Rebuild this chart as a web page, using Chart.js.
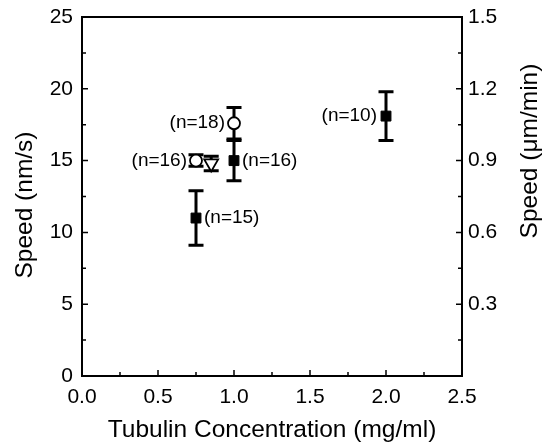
<!DOCTYPE html>
<html>
<head>
<meta charset="utf-8">
<script src="https://cdn.jsdelivr.net/npm/chart.js@4.4.1/dist/chart.umd.min.js"></script>
<style>
  html, body { margin: 0; padding: 0; background: #fff; }
  #wrap { width: 542px; height: 442px; position: relative; }
</style>
</head>
<body>
<div id="wrap"><canvas id="c" width="542" height="442"></canvas></div>
<script>
// ===== data =====
var xTicks = [0.0, 0.5, 1.0, 1.5, 2.0, 2.5];
var yTicks = [0, 5, 10, 15, 20, 25];
var y2Ticks = [0.3, 0.6, 0.9, 1.2, 1.5];

// filled squares
var sqX   = [0.75, 1.0, 2.0];
var sqY   = [11.0, 15.0, 18.1];
var sqErr = [1.9, 1.4, 1.7];
var sqN   = ["(n=15)", "(n=16)", "(n=10)"];
var sqSide = ["right", "right", "left"];

// open circles
var ciX   = [0.75, 1.0];
var ciY   = [15.0, 17.6];
var ciErr = [0.4, 1.1];
var ciN   = ["(n=16)", "(n=18)"];
var ciSide = ["left", "left"];

// open triangle (down)
var trX   = [0.85];
var trY   = [14.8];
var trErr = [0.5];

var FONT = "'Liberation Sans', Arial, Helvetica, sans-serif";

function pts(xs, ys) {
  return xs.map(function (x, i) { return { x: x, y: ys[i] }; });
}

// ===== error bars =====
var errorBars = {
  id: "errorBars",
  beforeDatasetsDraw: function (chart) {
    var ctx = chart.ctx, xs = chart.scales.x, ys = chart.scales.y;
    ctx.save();
    ctx.strokeStyle = "#000";
    ctx.lineWidth = 3;
    chart.data.datasets.forEach(function (ds) {
      if (!ds.err) return;
      ds.data.forEach(function (p, i) {
        var px = xs.getPixelForValue(p.x);
        var top = ys.getPixelForValue(p.y + ds.err[i]);
        var bot = ys.getPixelForValue(p.y - ds.err[i]);
        var w = 7.5;
        ctx.beginPath();
        ctx.moveTo(px, top); ctx.lineTo(px, bot);
        ctx.moveTo(px - w, top); ctx.lineTo(px + w, top);
        ctx.moveTo(px - w, bot); ctx.lineTo(px + w, bot);
        ctx.stroke();
      });
    });
    ctx.restore();
  }
};

// ===== n labels =====
var nLabels = {
  id: "nLabels",
  afterDatasetsDraw: function (chart) {
    var ctx = chart.ctx, xs = chart.scales.x, ys = chart.scales.y;
    ctx.save();
    ctx.fillStyle = "#000";
    ctx.font = "19px " + FONT;
    ctx.textBaseline = "middle";
    chart.data.datasets.forEach(function (ds) {
      if (!ds.nText) return;
      ds.data.forEach(function (p, i) {
        var px = xs.getPixelForValue(p.x);
        var py = ys.getPixelForValue(p.y);
        if (ds.nSide[i] === "left") {
          ctx.textAlign = "right";
          ctx.fillText(ds.nText[i], px - 9, py);
        } else {
          ctx.textAlign = "left";
          ctx.fillText(ds.nText[i], px + 8, py);
        }
      });
    });
    ctx.restore();
  }
};

// ===== inward ticks + frame + side titles =====
var inTicks = {
  id: "inTicks",
  afterDraw: function (chart) {
    var ctx = chart.ctx, a = chart.chartArea;
    var xs = chart.scales.x, ys = chart.scales.y;
    ctx.save();
    ctx.strokeStyle = "#000";
    ctx.lineWidth = 2;
    ctx.strokeRect(a.left, a.top, a.right - a.left, a.bottom - a.top);
    ctx.lineWidth = 1.5;
    ctx.beginPath();
    var v, p, len;
    for (v = 0; v <= 25.001; v += 2.5) {
      p = ys.getPixelForValue(v);
      len = (Math.round(v / 2.5) % 2 === 0) ? 6 : 4;
      ctx.moveTo(a.left, p); ctx.lineTo(a.left + len, p);
      ctx.moveTo(a.right, p); ctx.lineTo(a.right - len, p);
    }
    for (v = 0; v <= 2.501; v += 0.25) {
      p = xs.getPixelForValue(v);
      len = (Math.round(v / 0.25) % 2 === 0) ? 6 : 4;
      ctx.moveTo(p, a.bottom); ctx.lineTo(p, a.bottom - len);
    }
    ctx.stroke();

    // y titles, both reading bottom to top
    ctx.fillStyle = "#000";
    ctx.font = "24.5px " + FONT;
    ctx.textAlign = "center";
    ctx.textBaseline = "middle";
    ctx.save();
    ctx.translate(25, 205);
    ctx.rotate(-Math.PI / 2);
    ctx.fillText("Speed (nm/s)", 0, 0);
    ctx.restore();
    ctx.save();
    ctx.translate(530, 151);
    ctx.rotate(-Math.PI / 2);
    ctx.fillText("Speed (\u03bcm/min)", 0, 0);
    ctx.restore();
    ctx.restore();
  }
};

function noPadY(s) { s.paddingTop = 0; s.paddingBottom = 0; }

new Chart(document.getElementById("c"), {
  type: "scatter",
  data: {
    datasets: [
      {
        label: "filled",
        data: pts(sqX, sqY), err: sqErr, nText: sqN, nSide: sqSide,
        pointStyle: "rect", pointRadius: 7,
        backgroundColor: "#000", borderColor: "#000", borderWidth: 1,
      },
      {
        label: "circle",
        data: pts(ciX, ciY), err: ciErr, nText: ciN, nSide: ciSide,
        pointStyle: "circle", pointRadius: 6,
        backgroundColor: "#fff", borderColor: "#000", borderWidth: 1.8,
      },
      {
        label: "triangle",
        data: pts(trX, trY), err: trErr,
        pointStyle: "triangle", pointRotation: 180, pointRadius: 8,
        backgroundColor: "#fff", borderColor: "#000", borderWidth: 1.8,
      },
    ],
  },
  options: {
    responsive: false, animation: false,
    layout: { padding: { top: 17, right: 0, left: 0, bottom: 0 } },
    plugins: { legend: { display: false }, tooltip: { enabled: false } },
    scales: {
      x: {
        type: "linear", min: 0, max: 2.5,
        afterBuildTicks: function (s) { s.ticks = xTicks.map(function (v) { return { value: v }; }); },
        afterFit: function (s) { s.height = 66; s.paddingLeft = 0; s.paddingRight = 0; },
        grid: { display: false, drawTicks: false },
        border: { display: false },
        ticks: { color: "#000", padding: 9, font: { family: FONT, size: 21 },
          callback: function (v) { return v.toFixed(1); } },
        title: { display: true, text: "Tubulin Concentration (mg/ml)", color: "#000",
          font: { family: FONT, size: 24.5 }, padding: { top: 0, bottom: -3 } },
      },
      y: {
        type: "linear", position: "left", min: 0, max: 25,
        afterBuildTicks: function (s) { s.ticks = yTicks.map(function (v) { return { value: v }; }); },
        afterFit: function (s) { s.width = 82; noPadY(s); },
        grid: { display: false, drawTicks: false },
        border: { display: false },
        ticks: { color: "#000", padding: 9, font: { family: FONT, size: 21 } },
        title: { display: false },
      },
      y2: {
        type: "linear", position: "right", min: 0, max: 1.5,
        afterBuildTicks: function (s) { s.ticks = y2Ticks.map(function (v) { return { value: v }; }); },
        afterFit: function (s) { s.width = 80; noPadY(s); },
        grid: { display: false, drawTicks: false },
        border: { display: false },
        ticks: { color: "#000", padding: 6, font: { family: FONT, size: 21 },
          callback: function (v) { return v.toFixed(1); } },
        title: { display: false },
      },
    },
  },
  plugins: [errorBars, nLabels, inTicks],
});
</script>
</body>
</html>
